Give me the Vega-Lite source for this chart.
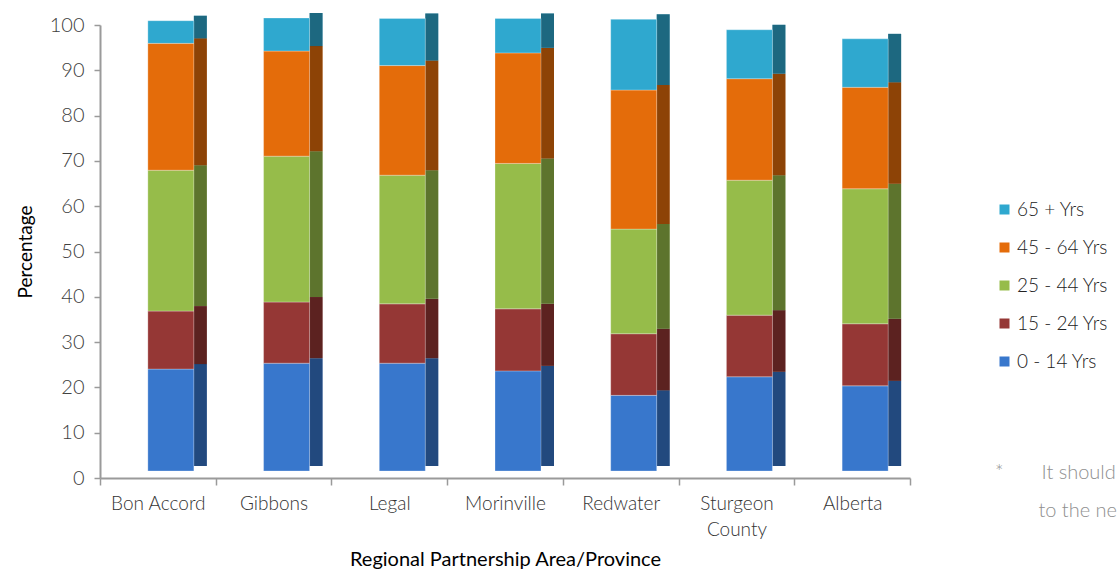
{
  "$schema": "https://vega.github.io/schema/vega-lite/v6.json",
  "width": 810,
  "height": 453,
  "autosize": {"type": "none"},
  "padding": {"left": 100, "top": 25, "right": 207, "bottom": 100},
  "config": {
    "view": {"stroke": null},
    "font": "Lato",
    "axis": {"grid": false, "labelFont": "Lato", "titleFont": "Lato", "titleFontWeight": "normal"}
  },
  "title": {
    "text": ["*\u00a0\u00a0\u00a0\u00a0\u00a0\u00a0\u00a0It should", "\u200b\u00a0\u00a0\u00a0\u00a0\u00a0\u00a0\u00a0\u00a0to the ne"],
    "orient": "bottom",
    "anchor": "start",
    "frame": "group",
    "dx": 895,
    "dy": -110,
    "fontSize": 20,
    "fontWeight": 300,
    "color": "#8f8f8f",
    "lineHeight": 38,
    "align": "left"
  },
  "data": {
    "values": [
      {"region": "Bon Accord", "group": "0 - 14 Yrs", "k": 1, "pct": 22.5},
      {"region": "Bon Accord", "group": "15 - 24 Yrs", "k": 2, "pct": 12.8},
      {"region": "Bon Accord", "group": "25 - 44 Yrs", "k": 3, "pct": 31.1},
      {"region": "Bon Accord", "group": " 45 - 64 Yrs", "k": 4, "pct": 28.0},
      {"region": "Bon Accord", "group": "65 + Yrs", "k": 5, "pct": 5.0},
      {"region": "Gibbons", "group": "0 - 14 Yrs", "k": 1, "pct": 23.8},
      {"region": "Gibbons", "group": "15 - 24 Yrs", "k": 2, "pct": 13.5},
      {"region": "Gibbons", "group": "25 - 44 Yrs", "k": 3, "pct": 32.2},
      {"region": "Gibbons", "group": " 45 - 64 Yrs", "k": 4, "pct": 23.2},
      {"region": "Gibbons", "group": "65 + Yrs", "k": 5, "pct": 7.3},
      {"region": "Legal", "group": "0 - 14 Yrs", "k": 1, "pct": 23.8},
      {"region": "Legal", "group": "15 - 24 Yrs", "k": 2, "pct": 13.1},
      {"region": "Legal", "group": "25 - 44 Yrs", "k": 3, "pct": 28.4},
      {"region": "Legal", "group": " 45 - 64 Yrs", "k": 4, "pct": 24.2},
      {"region": "Legal", "group": "65 + Yrs", "k": 5, "pct": 10.4},
      {"region": "Morinville", "group": "0 - 14 Yrs", "k": 1, "pct": 22.1},
      {"region": "Morinville", "group": "15 - 24 Yrs", "k": 2, "pct": 13.7},
      {"region": "Morinville", "group": "25 - 44 Yrs", "k": 3, "pct": 32.1},
      {"region": "Morinville", "group": " 45 - 64 Yrs", "k": 4, "pct": 24.4},
      {"region": "Morinville", "group": "65 + Yrs", "k": 5, "pct": 7.6},
      {"region": "Redwater", "group": "0 - 14 Yrs", "k": 1, "pct": 16.7},
      {"region": "Redwater", "group": "15 - 24 Yrs", "k": 2, "pct": 13.6},
      {"region": "Redwater", "group": "25 - 44 Yrs", "k": 3, "pct": 23.1},
      {"region": "Redwater", "group": " 45 - 64 Yrs", "k": 4, "pct": 30.7},
      {"region": "Redwater", "group": "65 + Yrs", "k": 5, "pct": 15.6},
      {"region": "Sturgeon County", "group": "0 - 14 Yrs", "k": 1, "pct": 20.8},
      {"region": "Sturgeon County", "group": "15 - 24 Yrs", "k": 2, "pct": 13.6},
      {"region": "Sturgeon County", "group": "25 - 44 Yrs", "k": 3, "pct": 29.8},
      {"region": "Sturgeon County", "group": " 45 - 64 Yrs", "k": 4, "pct": 22.4},
      {"region": "Sturgeon County", "group": "65 + Yrs", "k": 5, "pct": 10.8},
      {"region": "Alberta", "group": "0 - 14 Yrs", "k": 1, "pct": 18.8},
      {"region": "Alberta", "group": "15 - 24 Yrs", "k": 2, "pct": 13.7},
      {"region": "Alberta", "group": "25 - 44 Yrs", "k": 3, "pct": 29.8},
      {"region": "Alberta", "group": " 45 - 64 Yrs", "k": 4, "pct": 22.4},
      {"region": "Alberta", "group": "65 + Yrs", "k": 5, "pct": 10.7}
    ]
  },
  "encoding": {
    "x": {
      "field": "region",
      "type": "nominal",
      "sort": ["Bon Accord", "Gibbons", "Legal", "Morinville", "Redwater", "Sturgeon County", "Alberta"],
      "scale": {"paddingInner": 0, "paddingOuter": 0},
      "axis": {
        "title": "Regional Partnership Area/Province",
        "titleFontSize": 20,
        "titleColor": "#000000",
        "titlePadding": 10,
        "labelAngle": 0,
        "labelFontSize": 19,
        "labelFontWeight": 300,
        "labelColor": "#333333",
        "labelPadding": 9,
        "labelLineHeight": 26,
        "labelExpr": "datum.label == 'Sturgeon County' ? ['Sturgeon', 'County'] : datum.label",
        "tickBand": "extent",
        "tickSize": 7,
        "tickColor": "#9a9a9a",
        "tickWidth": 1.5,
        "domainColor": "#9a9a9a",
        "domainWidth": 2
      }
    },
    "y": {
      "field": "pct",
      "type": "quantitative",
      "stack": "zero",
      "scale": {"domain": [0, 100], "nice": false},
      "axis": {
        "title": "Percentage",
        "titleFontSize": 19,
        "titleColor": "#000000",
        "titlePadding": 14,
        "values": [0, 10, 20, 30, 40, 50, 60, 70, 80, 90, 100],
        "labelFontSize": 20,
        "labelFontWeight": 300,
        "labelColor": "#404040",
        "labelPadding": 10,
        "tickSize": 6,
        "tickColor": "#9a9a9a",
        "tickWidth": 1.5,
        "domainColor": "#9a9a9a",
        "domainWidth": 2
      }
    },
    "order": {"field": "k", "type": "quantitative"}
  },
  "layer": [
    {
      "mark": {"type": "bar", "width": 13, "xOffset": 42.5, "yOffset": -12},
      "encoding": {
        "color": {
          "field": "group",
          "type": "nominal",
          "scale": {
            "domain": ["65 + Yrs", " 45 - 64 Yrs", "25 - 44 Yrs", "15 - 24 Yrs", "0 - 14 Yrs"],
            "range": ["#2FA8CF", "#E46C0A", "#96BC4A", "#953735", "#3877CC"]
          },
          "legend": {
            "title": null,
            "orient": "none",
            "legendX": 895,
            "legendY": 175,
            "symbolType": "square",
            "symbolSize": 100,
            "symbolStrokeWidth": 0,
            "symbolOpacity": 1,
            "labelFontSize": 19,
            "labelFontWeight": 300,
            "labelColor": "#222222",
            "labelOffset": 3,
            "rowPadding": 18
          }
        }
      }
    },
    {
      "mark": {"type": "bar", "width": 13, "xOffset": 42.5, "yOffset": -12, "color": "#000000", "opacity": 0.38},
      "encoding": {"detail": {"field": "group", "type": "nominal"}}
    },
    {
      "mark": {"type": "bar", "width": 46, "xOffset": 13, "yOffset": -7, "stroke": "#ffffff", "strokeOpacity": 0.35, "strokeWidth": 0.8},
      "encoding": {
        "color": {"field": "group", "type": "nominal"}
      }
    }
  ]
}
